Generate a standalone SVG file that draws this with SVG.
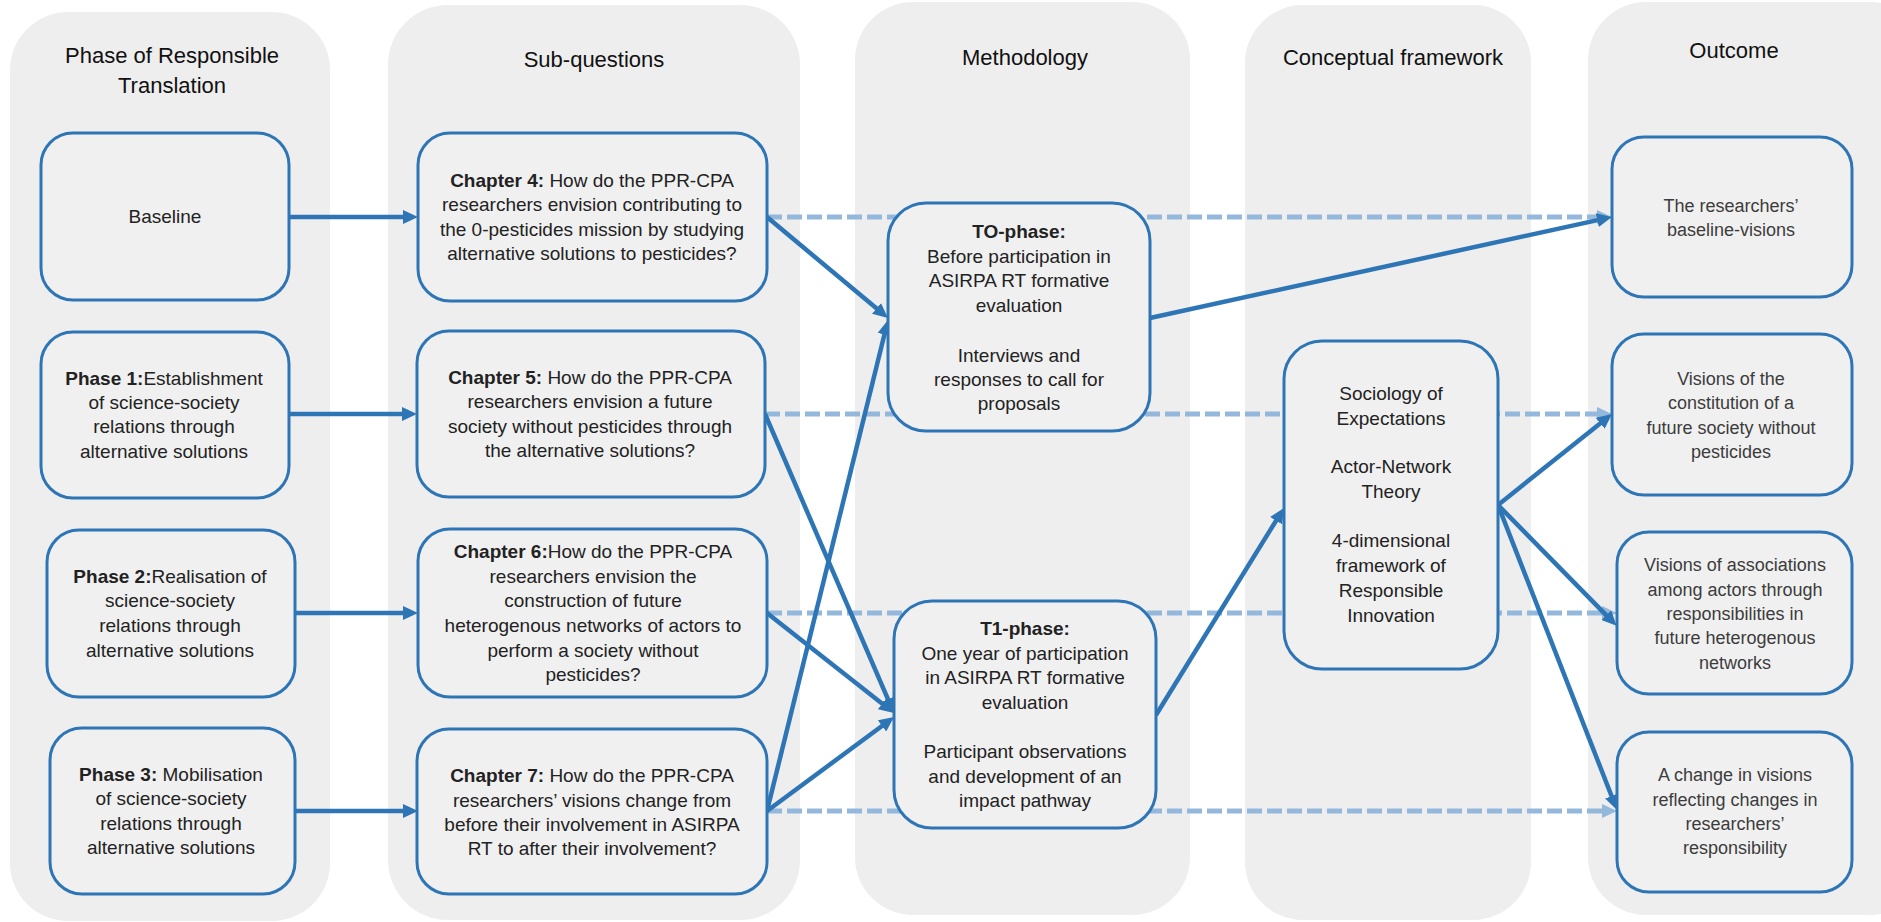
<svg xmlns="http://www.w3.org/2000/svg" width="1881" height="922" viewBox="0 0 1881 922">
<style>
.col{fill:#eeeeee}
.box{fill:#f0f0f0;stroke:#2e75b6;stroke-width:3}
.hd{font-family:"Liberation Sans",Arial,sans-serif;font-size:22px;fill:#111;text-anchor:middle}
.tx{font-family:"Liberation Sans",Arial,sans-serif;font-size:19px;fill:#222;text-anchor:middle}
.ot{font-family:"Liberation Sans",Arial,sans-serif;font-size:18px;fill:#3c3c3c;text-anchor:middle}
.b{font-weight:bold}
.sol{stroke:#2e75b6;stroke-width:4.5;fill:none;marker-end:url(#ah)}
.dsh{stroke:#93b8db;stroke-width:5;stroke-dasharray:15 5;fill:none;marker-end:url(#ahl)}
</style>
<defs>
<marker id="ah" markerUnits="userSpaceOnUse" markerWidth="15" markerHeight="14" refX="5" refY="7" orient="auto">
<path d="M0,0 L15,7 L0,14 z" fill="#2e75b6"/>
</marker>
<marker id="ahl" markerUnits="userSpaceOnUse" markerWidth="15" markerHeight="14" refX="5" refY="7" orient="auto">
<path d="M0,0 L15,7 L0,14 z" fill="#93b8db"/>
</marker>
</defs>
<rect width="1881" height="922" fill="#ffffff"/>
<g id="columns">
<rect class="col" x="10" y="12" width="320" height="909" rx="58"/>
<rect class="col" x="388" y="5" width="412" height="915" rx="60"/>
<rect class="col" x="855" y="2" width="335" height="913" rx="58"/>
<rect class="col" x="1245" y="5" width="286" height="915" rx="58"/>
<rect class="col" x="1588" y="2" width="340" height="913" rx="58"/>
<text class="hd" x="172" y="63">Phase of Responsible</text>
<text class="hd" x="172" y="93">Translation</text>
<text class="hd" x="594" y="67">Sub-questions</text>
<text class="hd" x="1025" y="65">Methodology</text>
<text class="hd" x="1393" y="65">Conceptual framework</text>
<text class="hd" x="1734" y="58">Outcome</text>
</g>
<g id="connectors">
<line class="dsh" x1="767" y1="217" x2="1602" y2="217"/>
<line class="dsh" x1="765" y1="414" x2="1602" y2="414"/>
<line class="dsh" x1="767" y1="613" x2="1607" y2="613"/>
<line class="dsh" x1="767" y1="811" x2="1607" y2="811"/>
<line class="sol" x1="289" y1="217" x2="408" y2="217"/>
<line class="sol" x1="289" y1="414" x2="407" y2="414"/>
<line class="sol" x1="295" y1="613" x2="408" y2="613"/>
<line class="sol" x1="295" y1="811" x2="408" y2="811"/>
<line class="sol" x1="767" y1="217" x2="880.3" y2="311.6"/>
<line class="sol" x1="765" y1="414" x2="890" y2="703.8"/>
<line class="sol" x1="767" y1="613" x2="886.1" y2="706.8"/>
<line class="sol" x1="767" y1="811" x2="885.6" y2="329.7"/>
<line class="sol" x1="767" y1="811" x2="886" y2="723"/>
<line class="sol" x1="1150" y1="318" x2="1602.2" y2="219.1"/>
<line class="sol" x1="1156" y1="715" x2="1278.7" y2="516.5"/>
<line class="sol" x1="1498" y1="505" x2="1604.2" y2="420.2"/>
<line class="sol" x1="1498" y1="505" x2="1609.6" y2="618.7"/>
<line class="sol" x1="1498" y1="505" x2="1613.4" y2="800.7"/>
</g>
<g id="n-baseline">
<rect class="box" x="41" y="133" width="248" height="167" rx="32"/>
<text class="tx" x="165" y="223">Baseline</text>
</g>
<g id="n-phase1">
<rect class="box" x="41" y="332" width="248" height="166" rx="32"/>
<text class="tx"><tspan x="164" y="385"><tspan class="b">Phase 1:</tspan>Establishment</tspan><tspan x="164" y="409">of science-society</tspan><tspan x="164" y="433">relations through</tspan><tspan x="164" y="458">alternative solutions</tspan></text>
</g>
<g id="n-phase2">
<rect class="box" x="47" y="530" width="248" height="167" rx="32"/>
<text class="tx"><tspan x="170" y="583"><tspan class="b">Phase 2:</tspan>Realisation  of</tspan><tspan x="170" y="607">science-society</tspan><tspan x="170" y="632">relations through</tspan><tspan x="170" y="657">alternative solutions</tspan></text>
</g>
<g id="n-phase3">
<rect class="box" x="50" y="728" width="245" height="166" rx="32"/>
<text class="tx"><tspan x="171" y="781"><tspan class="b">Phase 3:</tspan> Mobilisation</tspan><tspan x="171" y="805">of science-society</tspan><tspan x="171" y="830">relations through</tspan><tspan x="171" y="854">alternative solutions</tspan></text>
</g>
<g id="n-ch4">
<rect class="box" x="418" y="133" width="349" height="168" rx="32"/>
<text class="tx"><tspan x="592" y="187"><tspan class="b">Chapter 4:</tspan>  How do the PPR-CPA</tspan><tspan x="592" y="211">researchers  envision contributing to</tspan><tspan x="592" y="236">the 0-pesticides mission by studying</tspan><tspan x="592" y="260">alternative solutions to pesticides?</tspan></text>
</g>
<g id="n-ch5">
<rect class="box" x="417" y="331" width="348" height="166" rx="32"/>
<text class="tx"><tspan x="590" y="384"><tspan class="b">Chapter 5:</tspan>  How do the PPR-CPA</tspan><tspan x="590" y="408">researchers  envision a future</tspan><tspan x="590" y="433">society without pesticides through</tspan><tspan x="590" y="457">the alternative solutions?</tspan></text>
</g>
<g id="n-ch6">
<rect class="box" x="418" y="529" width="349" height="168" rx="32"/>
<text class="tx"><tspan x="593" y="558"><tspan class="b">Chapter 6:</tspan>How do the PPR-CPA</tspan><tspan x="593" y="583">researchers  envision the</tspan><tspan x="593" y="607">construction of future</tspan><tspan x="593" y="632">heterogenous  networks of actors to</tspan><tspan x="593" y="657">perform a society without</tspan><tspan x="593" y="681">pesticides?</tspan></text>
</g>
<g id="n-ch7">
<rect class="box" x="417" y="729" width="350" height="165" rx="32"/>
<text class="tx"><tspan x="592" y="782"><tspan class="b">Chapter 7:</tspan> How do the PPR-CPA</tspan><tspan x="592" y="807">researchers’  visions change from</tspan><tspan x="592" y="831">before their involvement in ASIRPA</tspan><tspan x="592" y="855">RT to after their involvement?</tspan></text>
</g>
<g id="n-t0">
<rect class="box" x="888" y="203" width="262" height="228" rx="38"/>
<text class="tx"><tspan class="b" x="1019" y="238">TO-phase:</tspan><tspan x="1019" y="263">Before participation in</tspan><tspan x="1019" y="287">ASIRPA RT formative</tspan><tspan x="1019" y="312">evaluation</tspan><tspan x="1019" y="362">Interviews and</tspan><tspan x="1019" y="386">responses to call for</tspan><tspan x="1019" y="410">proposals</tspan></text>
</g>
<g id="n-t1">
<rect class="box" x="894" y="601" width="262" height="227" rx="38"/>
<text class="tx"><tspan class="b" x="1025" y="635">T1-phase:</tspan><tspan x="1025" y="660">One year of participation</tspan><tspan x="1025" y="684">in ASIRPA RT formative</tspan><tspan x="1025" y="709">evaluation</tspan><tspan x="1025" y="758">Participant observations</tspan><tspan x="1025" y="783">and development of an</tspan><tspan x="1025" y="807">impact pathway</tspan></text>
</g>
<g id="n-concept">
<rect class="box" x="1284" y="341" width="214" height="328" rx="38"/>
<text class="tx"><tspan x="1391" y="400">Sociology of</tspan><tspan x="1391" y="425">Expectations</tspan><tspan x="1391" y="473">Actor-Network</tspan><tspan x="1391" y="498">Theory</tspan><tspan x="1391" y="547">4-dimensional</tspan><tspan x="1391" y="572">framework of</tspan><tspan x="1391" y="597">Responsible</tspan><tspan x="1391" y="622">Innovation</tspan></text>
</g>
<g id="n-o1">
<rect class="box" x="1612" y="137" width="240" height="160" rx="32"/>
<text class="ot"><tspan x="1731" y="212">The researchers’</tspan><tspan x="1731" y="236">baseline-visions</tspan></text>
</g>
<g id="n-o2">
<rect class="box" x="1612" y="334" width="240" height="161" rx="32"/>
<text class="ot"><tspan x="1731" y="385">Visions of the</tspan><tspan x="1731" y="409">constitution of a</tspan><tspan x="1731" y="434">future society without</tspan><tspan x="1731" y="458">pesticides</tspan></text>
</g>
<g id="n-o3">
<rect class="box" x="1617" y="532" width="235" height="162" rx="32"/>
<text class="ot"><tspan x="1735" y="571">Visions of associations</tspan><tspan x="1735" y="596">among actors through</tspan><tspan x="1735" y="620">responsibilities in</tspan><tspan x="1735" y="644">future heterogenous</tspan><tspan x="1735" y="669">networks</tspan></text>
</g>
<g id="n-o4">
<rect class="box" x="1617" y="732" width="235" height="160" rx="32"/>
<text class="ot"><tspan x="1735" y="781">A change in visions</tspan><tspan x="1735" y="806">reflecting changes in</tspan><tspan x="1735" y="830">researchers’</tspan><tspan x="1735" y="854">responsibility</tspan></text>
</g>
</svg>
